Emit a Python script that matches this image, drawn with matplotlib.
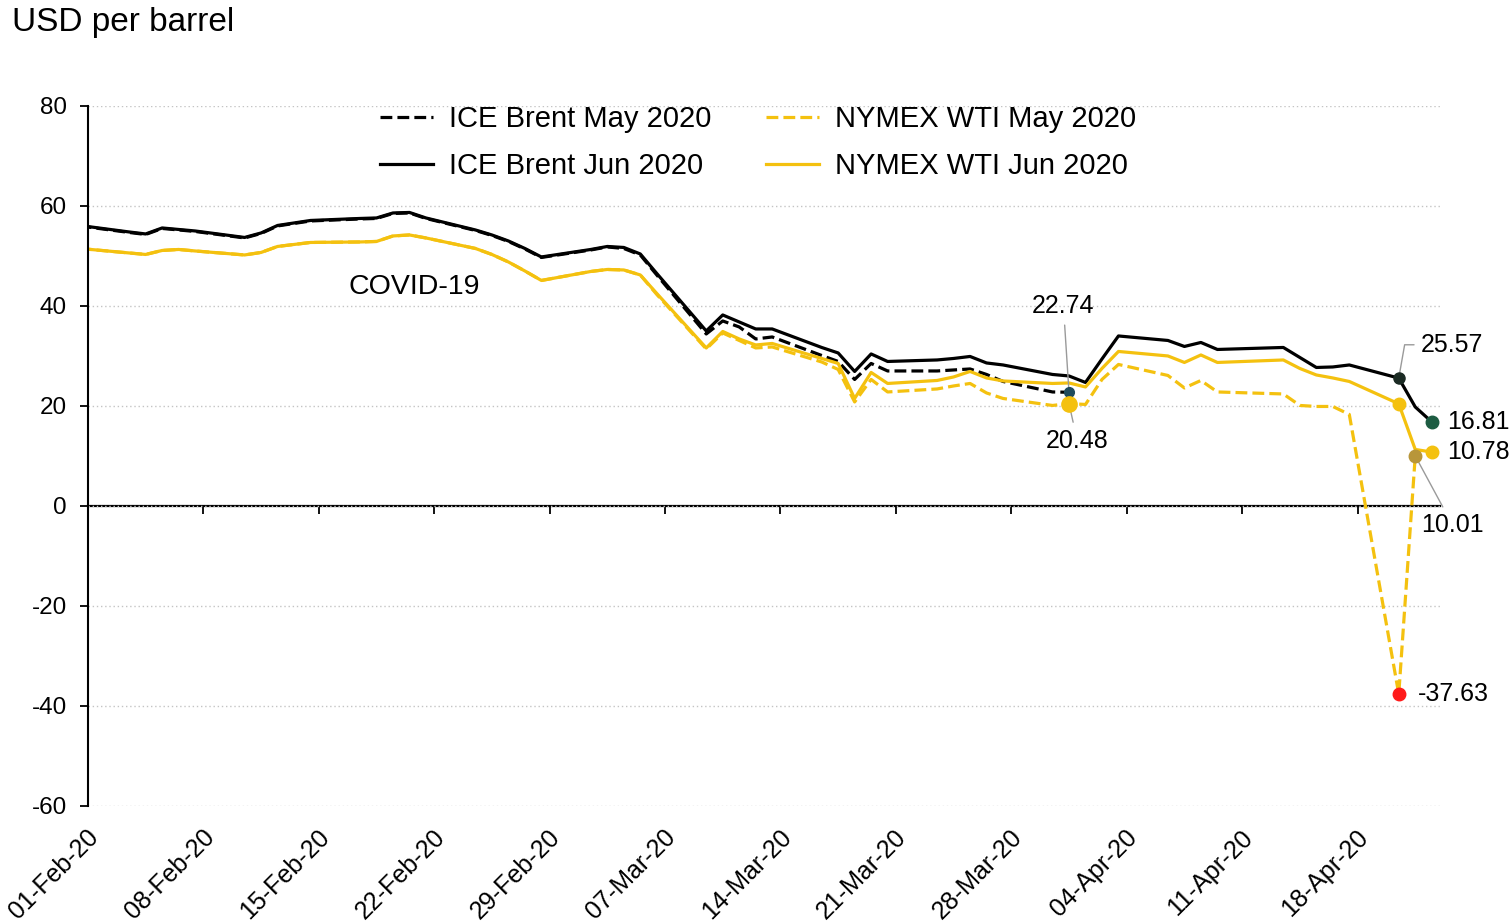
import matplotlib
matplotlib.use('Agg')
import matplotlib.pyplot as plt
import matplotlib.dates as mdates
from matplotlib.transforms import ScaledTranslation
import pandas as pd

plt.rcParams['font.family'] = ['Liberation Sans', 'DejaVu Sans']
plt.rcParams['axes.unicode_minus'] = False

# trading days (Jan 31 is only there so the line starts at the axis)
trade_days = ['2020-01-31',
              '2020-02-03', '2020-02-04', '2020-02-05', '2020-02-06', '2020-02-07',
              '2020-02-10', '2020-02-11', '2020-02-12', '2020-02-13', '2020-02-14',
              '2020-02-17', '2020-02-18', '2020-02-19', '2020-02-20', '2020-02-21',
              '2020-02-24', '2020-02-25', '2020-02-26', '2020-02-27', '2020-02-28',
              '2020-03-02', '2020-03-03', '2020-03-04', '2020-03-05', '2020-03-06',
              '2020-03-09', '2020-03-10', '2020-03-11', '2020-03-12', '2020-03-13',
              '2020-03-16', '2020-03-17', '2020-03-18', '2020-03-19', '2020-03-20',
              '2020-03-23', '2020-03-24', '2020-03-25', '2020-03-26', '2020-03-27',
              '2020-03-30', '2020-03-31',
              '2020-04-01', '2020-04-02', '2020-04-03',
              '2020-04-06', '2020-04-07', '2020-04-08', '2020-04-09',
              '2020-04-13', '2020-04-14', '2020-04-15', '2020-04-16', '2020-04-17',
              '2020-04-20', '2020-04-21', '2020-04-22']

brent_jun = [56.1,
             54.8, 54.4, 55.6, 55.3, 55.0,
             53.7, 54.6, 56.1, 56.6, 57.1,
             57.5, 57.6, 58.6, 58.7, 57.6,
             55.2, 54.2, 53.0, 51.5, 49.8,
             51.3, 51.9, 51.7, 50.4, 46.5,
             35.0, 38.2, 36.8, 35.4, 35.4,
             31.7, 30.6, 26.9, 30.4, 28.9,
             29.2, 29.5, 29.9, 28.6, 28.2,
             26.3, 26.0,
             24.7, 29.4, 34.0,
             33.1, 31.9, 32.7, 31.3,
             31.7, 29.7, 27.7, 27.8, 28.2,
             25.57, 19.8, 16.81]

# May contract expired on 31 Mar
brent_may = [56.0,
             54.7, 54.3, 55.5, 55.2, 54.9,
             53.6, 54.5, 56.0, 56.5, 57.0,
             57.4, 57.5, 58.5, 58.6, 57.5,
             55.1, 54.1, 52.9, 51.4, 49.7,
             51.2, 51.8, 51.5, 50.2, 46.2,
             34.4, 37.0, 35.8, 33.4, 33.8,
             30.1, 28.9, 25.3, 28.5, 27.0,
             27.0, 27.2, 27.4, 26.3, 24.9,
             22.8, 22.74]

wti_jun = [51.5,
           50.6, 50.3, 51.1, 51.3, 51.0,
           50.2, 50.7, 51.9, 52.3, 52.7,
           52.8, 52.9, 54.0, 54.2, 53.6,
           51.5, 50.3, 48.8, 47.0, 45.1,
           46.9, 47.3, 47.2, 46.2, 42.5,
           31.6, 34.9, 33.4, 32.2, 32.5,
           29.5, 28.5, 21.5, 26.7, 24.5,
           25.1, 25.8, 26.9, 25.6, 25.0,
           24.5, 24.6,
           23.8, 27.5, 30.9,
           30.0, 28.7, 30.2, 28.7,
           29.2, 27.5, 26.2, 25.6, 24.9,
           20.43, 11.3, 10.78]

# May contract expired on 21 Apr
wti_may = [51.5,
           50.6, 50.3, 51.1, 51.3, 51.0,
           50.2, 50.7, 51.9, 52.3, 52.7,
           52.8, 52.9, 54.0, 54.2, 53.6,
           51.5, 50.3, 48.8, 47.0, 45.1,
           46.9, 47.3, 47.2, 46.2, 42.3,
           31.4, 34.6, 33.1, 31.6, 31.8,
           28.8, 27.3, 20.8, 25.3, 22.8,
           23.4, 24.0, 24.5, 22.6, 21.5,
           20.1, 20.48,
           20.3, 25.3, 28.3,
           26.1, 23.6, 25.1, 22.8,
           22.4, 20.1, 19.9, 19.9, 18.3,
           -37.63, 10.01]

yellow = '#F4C10F'
grey_lead = '#9A9A9A'

# Excel date axis with points between tick marks -> middle of the day
dates = pd.to_datetime(trade_days) + pd.Timedelta(hours=12)


def val(series, day):
    i = trade_days.index(day)
    return dates[i], series[i]


fig = plt.figure(figsize=(15.11, 9.23), dpi=100)
ax = fig.add_axes([0.0582, 0.1268, 0.8948, 0.7584])

ax.plot(dates[:len(brent_may)], brent_may, color='black', lw=2.3, ls='--',
        label='ICE Brent May 2020')
ax.plot(dates, brent_jun, color='black', lw=2.3, label='ICE Brent Jun 2020')
ax.plot(dates[:len(wti_may)], wti_may, color=yellow, lw=2.3, ls='--',
        label='NYMEX WTI May 2020')
ax.plot(dates, wti_jun, color=yellow, lw=2.3, label='NYMEX WTI Jun 2020')

ax.set_xlim(pd.Timestamp('2020-02-01'), pd.Timestamp('2020-04-23'))
ax.set_ylim(-60, 80)
ax.set_yticks(range(-60, 81, 20))

tick_days = pd.date_range('2020-02-01', '2020-04-18', freq='7D')
ax.set_xticks(tick_days)
ax.xaxis.set_major_formatter(mdates.DateFormatter('%d-%b-%y'))
ax.tick_params(axis='x', length=0, pad=20, labelsize=18)
shift = ScaledTranslation(0.07, 0, fig.dpi_scale_trans)
for lab in ax.get_xticklabels():
    lab.set_rotation(45)
    lab.set_ha('right')
    lab.set_va('center')
    lab.set_rotation_mode('anchor')
    lab.set_transform(lab.get_transform() + shift)
ax.tick_params(axis='y', direction='out', length=6, width=1.3, pad=9, labelsize=17.5)

for s in ['top', 'right', 'bottom']:
    ax.spines[s].set_visible(False)
ax.spines['left'].set_linewidth(1.5)

ax.grid(axis='y', color='#C4C4C4', lw=1, ls=(0, (1, 2)))
ax.set_axisbelow(True)

# zero line with downward ticks
zero_pos = (0 - (-60)) / 140
zx = ax.secondary_xaxis(zero_pos)
zx.set_xticks(tick_days)
zx.tick_params(axis='x', direction='out', length=6, width=1.3, labelbottom=False)
zx.spines['bottom'].set_linewidth(1.6)

# highlighted points
d, v = val(brent_may, '2020-03-31')
ax.plot(d, v, 'o', color='#1F4B5C', ms=7, zorder=5)
ax.annotate('22.74', (d, v), xytext=(-4, 62), textcoords='offset points',
            ha='center', va='center', fontsize=18,
            arrowprops=dict(arrowstyle='-', color=grey_lead, lw=1, shrinkA=3, shrinkB=0))

d, v = val(wti_may, '2020-03-31')
ax.plot(d, v, 'o', color=yellow, ms=11, zorder=5)
ax.annotate('20.48', (d, v), xytext=(6, -27), textcoords='offset points',
            ha='center', va='center', fontsize=18,
            arrowprops=dict(arrowstyle='-', color=grey_lead, lw=1, shrinkA=3, shrinkB=0))

d, v = val(brent_jun, '2020-04-20')
ax.plot(d, v, 'o', color='#1B2B24', ms=8, zorder=5)
ax.annotate('25.57', (d, v), xytext=(16, 24), textcoords='offset points',
            ha='left', va='center', fontsize=18,
            arrowprops=dict(arrowstyle='-', color=grey_lead, lw=1, shrinkA=3, shrinkB=0,
                            relpos=(0, 0.5),
                            connectionstyle='angle,angleA=0,angleB=80,rad=0'))

d, v = val(wti_jun, '2020-04-20')
ax.plot(d, v, 'o', color=yellow, ms=9, zorder=5)

d, v = val(brent_jun, '2020-04-22')
ax.plot(d, v, 'o', color='#1D5C42', ms=9, zorder=5)
ax.annotate('16.81', (d, v), xytext=(11, 0), textcoords='offset points',
            ha='left', va='center', fontsize=18, annotation_clip=False)

d, v = val(wti_jun, '2020-04-22')
ax.plot(d, v, 'o', color=yellow, ms=9, zorder=5, clip_on=False)
ax.annotate('10.78', (d, v), xytext=(11, 0), textcoords='offset points',
            ha='left', va='center', fontsize=18, annotation_clip=False)

d, v = val(wti_may, '2020-04-21')
ax.plot(d, v, 'o', color='#B8963A', ms=9, zorder=5)
ax.annotate('10.01', (d, v), xytext=(27, -50), textcoords='offset points',
            ha='center', va='center', fontsize=18, annotation_clip=False,
            arrowprops=dict(arrowstyle='-', color=grey_lead, lw=1, shrinkA=3, shrinkB=0))

d, v = val(wti_may, '2020-04-20')
ax.plot(d, v, 'o', color='#FF1A1A', ms=9, zorder=5)
ax.annotate('-37.63', (d, v), xytext=(14, 0), textcoords='offset points',
            ha='left', va='center', fontsize=18, annotation_clip=False)

ax.text(pd.Timestamp('2020-02-20 19:00'), 43.8, 'COVID-19', fontsize=20.5,
        ha='center', va='center')

fig.text(0.008, 0.976, 'USD per barrel', fontsize=24, ha='left', va='center')

ax.legend(ncol=2, loc='upper left', bbox_to_anchor=(0.2515, 0.8862),
          bbox_transform=fig.transFigure, frameon=False, fontsize=21,
          handlelength=1.8, handletextpad=0.55, columnspacing=1.9,
          labelspacing=0.65, borderpad=0, borderaxespad=0)

fig.savefig('out.png', dpi=100)
